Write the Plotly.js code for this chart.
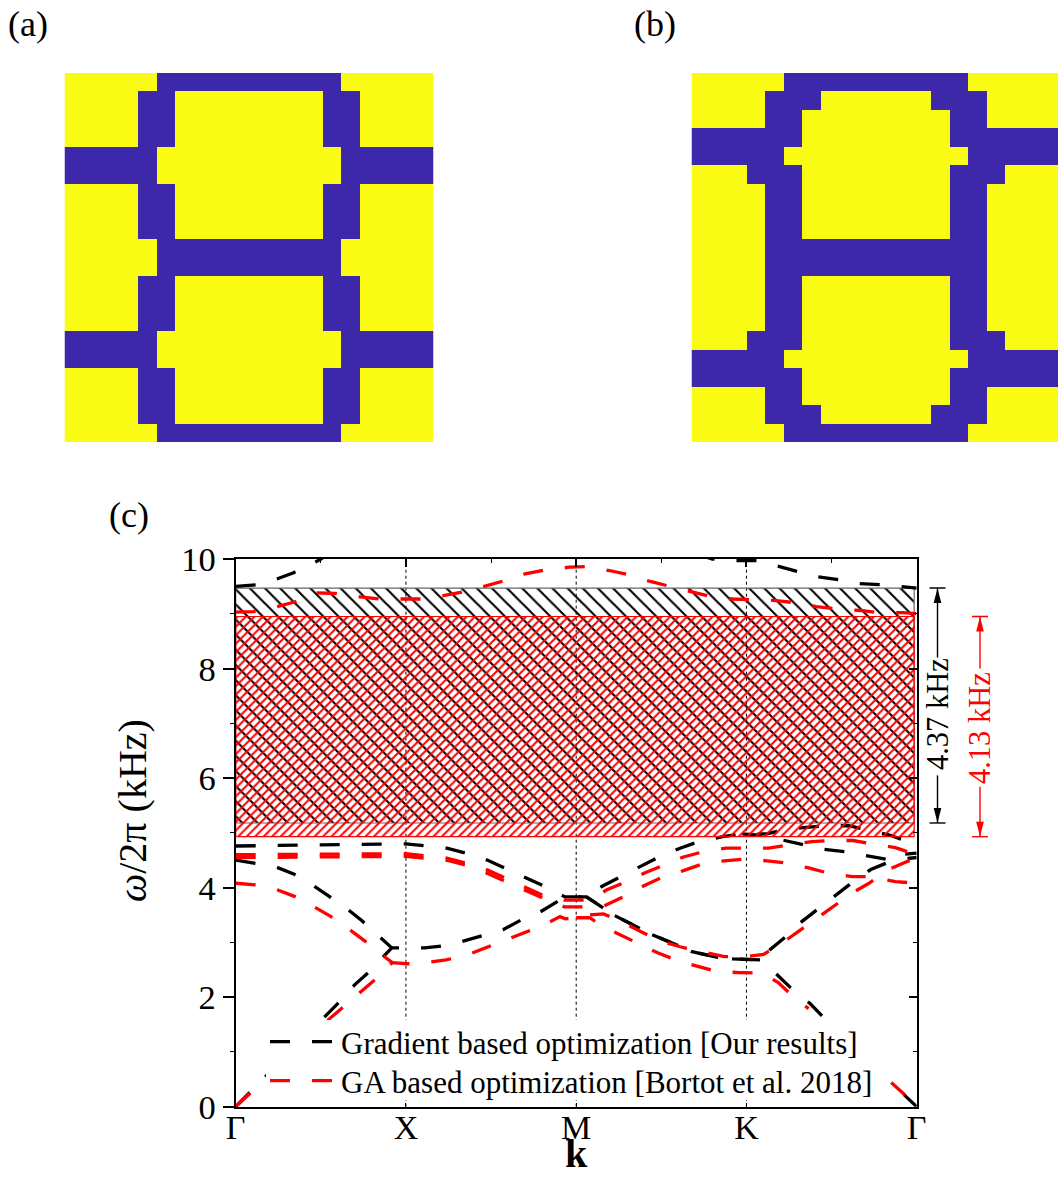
<!DOCTYPE html>
<html>
<head>
<meta charset="utf-8">
<script src="https://cdn.plot.ly/plotly-3.0.1.min.js"></script>
<style>html,body{margin:0;padding:0;background:#fff;overflow:hidden}</style>
</head>
<body>
<div id="chart" style="width:1058px;height:1177px"></div>
<script>
// Material layouts: 1 = stiff phase (blue), 0 = soft phase (yellow)
var layoutA = [
"00000111111111100000","00001100000000110000","00001100000000110000","00001100000000110000",
"11111000000000011111","11111000000000011111","00001100000000110000","00001100000000110000",
"00001100000000110000","00000111111111100000","00000111111111100000","00001100000000110000",
"00001100000000110000","00001100000000110000","11111000000000011111","11111000000000011111",
"00001100000000110000","00001100000000110000","00001100000000110000","00000111111111100000"];
var layoutB = [
"00000111111111100000","00001110000001110000","00001100000000110000","11111100000000111111",
"11111000000000011111","00011100000000111000","00001100000000110000","00001100000000110000",
"00001100000000110000","00001111111111110000","00001111111111110000","00001100000000110000",
"00001100000000110000","00001100000000110000","00011100000000111000","11111000000000011111",
"11111100000000111111","00001100000000110000","00001110000001110000","00000111111111100000"];

var tickPositions = [0, 1, 2, 3, 4];
var tickNames = ["Γ", "X", "M", "K", "Γ"];

// Our results (black bands)
var blackAx = [0,0.53,0.605,0.70,0.78,0.88,0.917,1,1.11,1.23,1.31,1.47,1.57,1.70,1.78,1.935,2.06,2.15,2.22,2.365,2.445,2.61,2.68,2.825,2.92,3.09,3.14,3.23,3.325,3.42,3.53,3.62,3.73,3.84,3.9,4];
var blackAy = [0,1.68,1.90,2.23,2.45,2.78,2.90,2.90,2.90,2.94,3.00,3.14,3.23,3.45,3.54,3.83,3.83,3.65,3.50,3.27,3.14,2.93,2.83,2.73,2.70,2.68,2.87,3.10,3.38,3.61,3.87,4.09,4.33,4.47,4.60,4.63];
var blackBx = [0,0.235,0.34,0.45,0.545,0.655,0.74,0.84,0.917];
var blackBy = [4.50,4.38,4.25,4.05,3.85,3.61,3.40,3.12,2.90];
var blackCx = [0,0.5,1,1.24,1.35,1.48,1.58,1.70,1.81,1.935,2.06,2.15,2.26,2.38,2.485,2.61,2.72,2.86,2.975,3.12,3.21,3.35,3.47,3.6,3.71,3.84,3.95,4];
var blackCy = [4.76,4.78,4.80,4.72,4.63,4.50,4.36,4.20,4.03,3.83,3.83,4.02,4.20,4.40,4.56,4.72,4.84,4.93,4.98,4.98,5.05,5.10,5.13,5.13,5.05,4.96,4.84,4.78];
var blackDx = [2.06,2.15,2.22,2.365,2.445,2.61,2.68,2.825,2.92,3.09,3.18,3.26,3.375,3.45];
var blackDy = [3.83,3.65,3.50,3.27,3.14,2.93,2.83,2.73,2.70,2.68,2.41,2.17,1.88,1.64];
var blackTailX = [3.925,4];
var blackTailY = [0.22,0];
var blackEx = [2.975,3.12,3.21,3.35,3.455,3.59,3.70,3.85,4];
var blackEy = [4.98,4.95,4.87,4.78,4.70,4.65,4.59,4.50,4.55];
var blackTopLeftX = [0,0.12,0.245,0.34,0.46,0.5,0.6];
var blackTopLeftY = [9.50,9.53,9.64,9.75,9.93,10.0,10.2];
var blackTopRightX = [2.7,2.8,2.92,3.06,3.17,3.3,3.41,3.55,3.66,3.8,3.92,4];
var blackTopRightY = [10.1,10.0,9.97,9.97,9.88,9.77,9.68,9.62,9.55,9.53,9.49,9.47];

// Bortot et al. 2018 (red bands)
var redAx = [0,0.545,0.635,0.735,0.83,0.92,1.005,1.075,1.235,1.36,1.545,1.675,1.79,1.905,1.935,2,2.06,2.16,2.29,2.39,2.51,2.61,2.76,2.87,3,3.1,3.215,3.305,3.42,3.515,3.625,3.715,3.85,3.93,4];
var redAy = [0,1.59,1.83,2.10,2.35,2.63,2.61,2.61,2.68,2.77,2.99,3.14,3.29,3.47,3.43,3.45,3.50,3.52,3.34,3.18,3.01,2.92,2.81,2.74,2.74,2.78,3.00,3.20,3.45,3.67,3.91,4.07,4.35,4.46,4.55];
var redBx = [0,0.12,0.235,0.345,0.46,0.56,0.67,0.765,0.86,0.92];
var redBy = [4.08,4.05,3.97,3.84,3.65,3.47,3.23,3.01,2.77,2.63];
var redCx = [0,1,1.24,1.35,1.48,1.58,1.70,1.81,1.93,2.08,2.18,2.28,2.405,2.51,2.63,2.74,2.88,3.0,3.13,3.25,3.385,3.5,3.625,3.735,3.875,4];
var redCy = [4.60,4.62,4.54,4.45,4.32,4.18,4.02,3.85,3.77,3.77,3.96,4.09,4.27,4.40,4.56,4.65,4.72,4.72,4.72,4.78,4.84,4.86,4.86,4.80,4.73,4.60];
var redDx = [0,1,1.24,1.35,1.48,1.58,1.70,1.81,1.93,2.07,2.165,2.275,2.395,2.5,2.63,2.74,2.87,2.99,3.12,3.235,3.365,3.475,3.62,3.725,3.875,4];
var redDy = [4.55,4.57,4.50,4.41,4.26,4.12,3.96,3.80,3.65,3.65,3.67,3.83,4.03,4.18,4.31,4.43,4.49,4.52,4.49,4.45,4.36,4.27,4.20,4.20,4.11,4.08];
var redEx = [2.0,2.08,2.15,2.255,2.38,2.485,2.61,2.72,2.825,2.945,3.09,3.185,3.275,3.365];
var redEy = [3.45,3.45,3.30,3.14,2.95,2.80,2.65,2.56,2.47,2.45,2.44,2.27,2.01,1.79];
var redTailX = [3.85,3.93];
var redTailY = [0.44,0.22];
var redTopX = [0,0.105,0.243,0.35,0.48,0.585,0.73,0.845,0.975,1.09,1.22,1.335,1.47,1.575,1.7,1.82,1.96,2.06,2.195,2.31,2.435,2.55,2.68,2.795,2.92,3.04,3.175,3.29,3.41,3.53,3.67,3.78,3.92,4];
var redTopY = [9.03,9.04,9.13,9.22,9.38,9.37,9.31,9.27,9.27,9.27,9.33,9.40,9.51,9.60,9.73,9.80,9.85,9.86,9.79,9.71,9.59,9.50,9.39,9.31,9.27,9.26,9.24,9.20,9.13,9.09,9.06,9.02,9.02,9.00];

// Band gaps (kHz)
var gapBlack = [5.18, 9.47];
var gapRed = [4.93, 8.95];
var gapLabels = ["4.37 kHz", "4.13 kHz"];
var legendNames = ["Gradient based optimization [Our results]", "GA based optimization [Bortot et al. 2018]"];

var W = 1058, H = 1177, SERIF = "Liberation Serif, Times New Roman, serif";
var BLUE = "#3c28a8", YELLOW = "#f9fb15", RED = "#ff0000";
function px(x){return x/W;}
function py(y){return 1-y/H;}
function grid(rows){return rows.map(function(r){return r.split("").map(Number);});}
var gapRight = 3.985;

function band(x,y,color,name,leg){
  var t = {type:"scatter",mode:"lines",x:x,y:y,name:name||"",showlegend:!!name,hoverinfo:"skip",
    line:{color:color,width:3.3,dash:"20px,22px"},xaxis:"x",yaxis:"y"};
  if(leg) t.legend = leg;
  return t;
}
function hatch(lo,hi,color,edge,shape,size,sol){
  return {type:"scatter",mode:"lines",x:[0,gapRight,gapRight,0,0],y:[lo,lo,hi,hi,lo],fill:"toself",
    fillcolor:"rgba(0,0,0,0)",fillpattern:{shape:shape,size:size,solidity:sol,fgcolor:color,bgcolor:"rgba(0,0,0,0)"},
    line:{color:edge,width:1.2},showlegend:false,hoverinfo:"skip",xaxis:"x",yaxis:"y"};
}
function vline(x){
  return {type:"scatter",mode:"lines",x:[x,x],y:[0,10],showlegend:false,hoverinfo:"skip",
    line:{color:"#000",width:1,dash:"3px,3px"},xaxis:"x",yaxis:"y"};
}
var cs = [[0,YELLOW],[1,BLUE]];
var traces = [
  {type:"heatmap",z:grid(layoutA),colorscale:cs,zmin:0,zmax:1,showscale:false,hoverinfo:"skip",xaxis:"x2",yaxis:"y2"},
  {type:"heatmap",z:grid(layoutB),colorscale:cs,zmin:0,zmax:1,showscale:false,hoverinfo:"skip",xaxis:"x3",yaxis:"y3"},
  vline(1),vline(2),vline(3),
  hatch(gapBlack[0],gapBlack[1],"#000","#666","\\",10.7,0.2),
  band(blackAx,blackAy,"#000",legendNames[0]),
  band(blackBx,blackBy,"#000"),
  band(blackCx,blackCy,"#000"),
  band(blackDx,blackDy,"#000"),
  band(blackTailX,blackTailY,"#000"),
  band(blackEx,blackEy,"#000"),
  band(blackTopLeftX,blackTopLeftY,"#000"),
  band(blackTopRightX,blackTopRightY,"#000"),
  band(redAx,redAy,RED,legendNames[1],"legend2"),
  band(redBx,redBy,RED),
  band(redCx,redCy,RED),
  band(redDx,redDy,RED),
  band(redEx,redEy,RED),
  band(redTailX,redTailY,RED),
  band(redTopX,redTopY,RED),
  hatch(gapRed[0],gapRed[1],RED,RED,"/",6,0.34),
  {type:"scatter",mode:"lines",x:[0],y:[0],showlegend:false,hoverinfo:"skip",xaxis:"x4",yaxis:"y4",line:{width:0}}
];

function dim(x,lo,hi,txtLo,txtHi,color){
  var kPerPx = 10/548, bar = 8, hw = 3.8, hl = 15*kPerPx, w = 1.4;
  var s = {xref:"paper",yref:"y",line:{color:color,width:w}};
  function mk(o){var c={};for(var k in s)c[k]=s[k];for(var k2 in o)c[k2]=o[k2];return c;}
  return [
    mk({type:"line",x0:px(x-bar),x1:px(x+bar),y0:hi,y1:hi}),
    mk({type:"line",x0:px(x-bar),x1:px(x+bar),y0:lo,y1:lo}),
    mk({type:"line",x0:px(x),x1:px(x),y0:hi,y1:txtHi}),
    mk({type:"line",x0:px(x),x1:px(x),y0:lo,y1:txtLo}),
    mk({type:"path",fillcolor:color,line:{width:0},path:"M "+px(x)+" "+hi+" L "+px(x-hw)+" "+(hi-hl)+" L "+px(x+hw)+" "+(hi-hl)+" Z"}),
    mk({type:"path",fillcolor:color,line:{width:0},path:"M "+px(x)+" "+lo+" L "+px(x-hw)+" "+(lo+hl)+" L "+px(x+hw)+" "+(lo+hl)+" Z"})
  ];
}
var legendMask = {type:"rect",xref:"paper",yref:"paper",x0:px(266),x1:px(883),y0:py(1100),y1:py(1020),fillcolor:"#fff",line:{width:0}};
var shapes = [legendMask].concat(dim(937.5,gapBlack[0],gapBlack[1],6.05,8.2,"#000"),dim(980,gapRed[0],gapRed[1],5.84,8.0,RED));

function label(text,x,y,size,extra){
  var a = {text:text,xref:"paper",yref:"paper",x:px(x),y:py(y),xanchor:"center",yanchor:"middle",showarrow:false,
    font:{family:SERIF,size:size,color:"#000"}};
  for(var k in (extra||{}))a[k]=extra[k];
  return a;
}
var annotations = [
  label("(a)",28,24,36),
  label("(b)",655,24,36),
  label("(c)",129,515,36),
  label("<b>k</b>",576,1153,40),
  label("<i>ω</i>/2π (kHz)",132,811,40,{textangle:-90}),
  label(gapLabels[0],938,714,30.5,{textangle:-90}),
  label(gapLabels[1],980,728,30.5,{textangle:-90,font:{family:SERIF,size:30.5,color:RED}})
];
function leg(top){
  return {x:px(265),y:py(top),xanchor:"left",yanchor:"top",bgcolor:"rgba(0,0,0,0)",borderwidth:0,itemwidth:66,
    font:{family:SERIF,size:31,color:"#000"},itemclick:false,itemdoubleclick:false};
}

var l = {
  width:W,height:H,margin:{l:0,r:0,t:0,b:0},paper_bgcolor:"#fff",plot_bgcolor:"rgba(0,0,0,0)",
  showlegend:true,
  legend:leg(1015),
  legend2:leg(1054),
  xaxis:{domain:[px(235.7),px(916.7)],range:[0,4],anchor:"y",tickmode:"array",tickvals:tickPositions,ticktext:tickNames,
    ticks:"inside",ticklen:4,tickwidth:1.2,tickcolor:"#000",showline:true,linecolor:"#000",linewidth:2,showgrid:false,zeroline:false,
    ticklabelstandoff:-11,
    tickfont:{family:SERIF,size:34,color:"#000"}},
  yaxis:{domain:[py(1106.7),py(559)],range:[0,10],anchor:"x",dtick:2,tick0:0,ticks:"outside",ticklen:11,tickwidth:1.5,tickcolor:"#000",
    minor:{dtick:1,ticks:"outside",ticklen:4,tickwidth:1.2,tickcolor:"#000"},
    showline:true,linecolor:"#000",linewidth:2,showgrid:false,zeroline:false,tickfont:{family:SERIF,size:34.5,color:"#000"}},
  xaxis4:{overlaying:"x",anchor:"y4",side:"top",range:[0,4],tickmode:"linear",tick0:0,dtick:1,ticks:"inside",ticklen:8,tickwidth:1.5,tickcolor:"#000",
    minor:{dtick:0.5,ticks:"inside",ticklen:4,tickwidth:1.2,tickcolor:"#000"},showticklabels:false,showline:true,linecolor:"#000",linewidth:2,showgrid:false,zeroline:false},
  yaxis4:{overlaying:"y",anchor:"x4",side:"right",range:[0,10],tickmode:"linear",tick0:0,dtick:2,ticks:"inside",ticklen:8,tickwidth:1.5,tickcolor:"#000",
    minor:{dtick:1,ticks:"inside",ticklen:4,tickwidth:1.2,tickcolor:"#000"},showticklabels:false,showline:true,linecolor:"#000",linewidth:2,showgrid:false,zeroline:false},
  xaxis2:{domain:[px(64.5),px(433.5)],range:[-0.5,19.5],visible:false,anchor:"y2"},
  yaxis2:{domain:[py(442),py(73)],range:[19.5,-0.5],visible:false,anchor:"x2"},
  xaxis3:{domain:[px(691.5),1],range:[-0.5,19.36],visible:false,anchor:"y3"},
  yaxis3:{domain:[py(442),py(73)],range:[19.5,-0.5],visible:false,anchor:"x3"},
  shapes:shapes,annotations:annotations
};
Plotly.newPlot("chart",traces,l,{displayModeBar:false,responsive:false});
</script>
</body>
</html>
